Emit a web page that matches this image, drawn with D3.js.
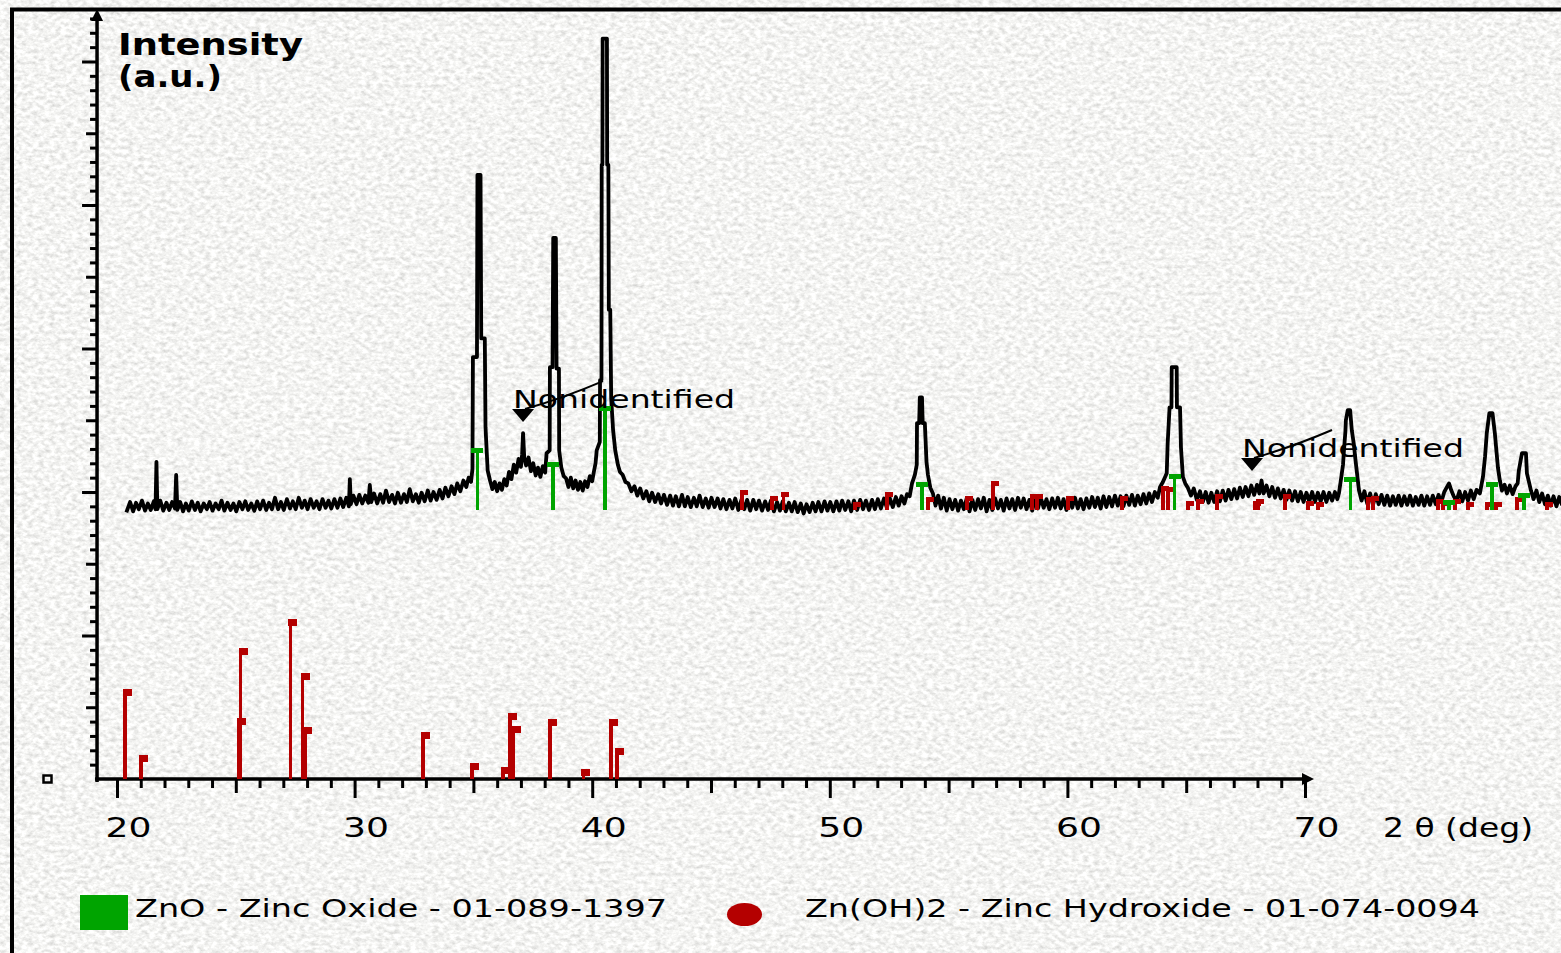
<!DOCTYPE html>
<html>
<head>
<meta charset="utf-8">
<script src="https://cdn.jsdelivr.net/npm/d3@7"></script>
<style>
  html, body { margin: 0; padding: 0; background: #e9e9e6; overflow: hidden; }
  svg { display: block; }
  text { font-family: "DejaVu Sans", Verdana, sans-serif; fill: #000; }
</style>
</head>
<body>
<svg id="chart" width="1561" height="953"></svg>
<script>
// Measured diffraction pattern: [2θ (deg), intensity (a.u.)]
const pattern = [
  [20.42,18.7],[20.55,19.3],[20.68,18.65],[20.8,19.25],[20.92,18.8],[21.05,19.4],[21.18,18.7],[21.3,19.2],[21.42,18.75],[21.55,19.35],
  [21.62,18.8],[21.66,22.1],[21.7,18.8],[21.82,19.4],[21.95,18.7],[22.08,19.25],[22.2,18.75],[22.32,19.3],[22.44,18.85],[22.49,21.2],
  [22.54,18.75],[22.66,19.3],[22.78,18.65],[22.9,19.2],[23.02,18.7],[23.15,19.35],[23.28,18.75],[23.4,19.25],[23.52,18.65],[23.65,19.2],
  [23.78,18.8],[23.9,19.3],[24.02,18.7],[24.15,19.2],[24.28,18.8],[24.4,19.4],[24.52,18.7],[24.65,19.25],[24.78,18.75],[24.9,19.2],
  [25.02,18.65],[25.15,19.3],[25.28,18.8],[25.4,19.35],[25.52,18.75],[25.65,19.2],[25.78,18.7],[25.9,19.35],[26.02,18.8],[26.15,19.4],
  [26.28,18.75],[26.4,19.25],[26.52,18.8],[26.65,19.6],[26.78,18.8],[26.9,19.3],[27.02,18.75],[27.15,19.5],[27.28,18.85],[27.4,19.35],
  [27.52,18.8],[27.65,19.6],[27.78,18.9],[27.9,19.4],[28.02,18.8],[28.15,19.5],[28.28,18.9],[28.4,19.35],[28.52,18.8],[28.65,19.5],
  [28.78,18.9],[28.9,19.4],[29.02,18.85],[29.15,19.5],[29.28,18.9],[29.4,19.55],[29.52,18.95],[29.65,19.6],[29.76,19.0],[29.8,20.9],
  [29.84,19.15],[29.95,19.75],[30.08,19.15],[30.2,19.8],[30.32,19.2],[30.45,19.75],[30.58,19.25],[30.64,20.5],[30.7,19.3],[30.82,19.9],
  [30.95,19.2],[31.08,19.85],[31.2,19.25],[31.32,20.1],[31.45,19.3],[31.58,19.8],[31.7,19.2],[31.82,19.95],[31.95,19.25],[32.08,19.85],
  [32.2,19.3],[32.32,20.2],[32.45,19.35],[32.58,19.85],[32.7,19.25],[32.82,19.95],[32.95,19.35],[33.08,20.1],[33.2,19.4],[33.32,20.0],
  [33.45,19.45],[33.58,20.15],[33.7,19.55],[33.82,20.3],[33.95,19.7],[34.08,20.4],[34.2,19.85],[34.32,20.6],[34.45,20.05],[34.58,20.8],
  [34.7,20.35],[34.8,21.0],[34.9,20.7],[34.96,21.6],[34.98,29.4],[35.15,29.4],[35.17,42.1],[35.3,42.1],[35.33,30.7],[35.48,30.7],
  [35.51,24.5],[35.6,21.5],[35.7,20.8],[35.8,20.2],[35.9,20.7],[36.0,20.05],[36.1,20.6],[36.2,20.15],[36.3,20.9],[36.4,20.45],
  [36.5,21.4],[36.6,20.9],[36.7,21.9],[36.8,21.35],[36.9,22.3],[37.0,21.75],[37.05,22.6],[37.09,24.1],[37.14,22.4],[37.22,21.85],
  [37.32,22.4],[37.42,21.45],[37.52,22.0],[37.62,21.15],[37.72,21.7],[37.82,21.05],[37.92,21.8],[38.02,21.35],[38.08,22.7],[38.21,22.9],
  [38.22,28.7],[38.33,28.7],[38.36,37.7],[38.47,37.7],[38.5,28.6],[38.6,28.6],[38.61,22.9],[38.7,21.7],[38.8,21.1],[38.9,20.95],
  [39.0,20.35],[39.1,21.0],[39.2,20.25],[39.3,20.8],[39.4,20.15],[39.5,20.7],[39.6,20.1],[39.7,20.75],[39.8,20.35],[39.9,21.1],
  [40.0,20.75],[40.08,21.5],[40.14,22.0],[40.19,22.9],[40.32,23.5],[40.33,27.8],[40.39,27.8],[40.4,42.8],[40.43,42.8],[40.44,51.6],
  [40.62,51.6],[40.63,42.8],[40.68,42.8],[40.7,32.7],[40.76,32.7],[40.8,26.5],[40.88,24.3],[40.97,22.9],[41.08,21.9],[41.17,21.4],
  [41.28,21.2],[41.4,20.7],[41.52,20.6],[41.65,20.05],[41.78,20.4],[41.9,19.75],[42.02,20.25],[42.15,19.55],[42.28,20.05],[42.4,19.35],
  [42.52,19.95],[42.65,19.3],[42.78,19.85],[42.9,19.2],[43.02,19.8],[43.15,19.1],[43.28,19.75],[43.4,19.05],[43.52,19.7],[43.65,19.0],
  [43.78,19.8],[43.9,19.0],[44.02,19.65],[44.15,18.95],[44.28,19.6],[44.4,19.0],[44.52,19.75],[44.65,18.95],[44.78,19.55],[44.9,18.9],
  [45.02,19.6],[45.15,18.95],[45.28,19.55],[45.4,18.85],[45.52,19.5],[45.65,18.8],[45.78,19.45],[45.9,18.85],[46.02,19.55],[46.15,18.75],
  [46.28,19.45],[46.4,18.8],[46.52,19.45],[46.65,18.7],[46.78,19.45],[46.9,18.8],[47.02,19.4],[47.15,18.7],[47.28,19.35],[47.4,18.75],
  [47.52,19.4],[47.65,18.65],[47.78,19.3],[47.9,18.7],[48.02,19.35],[48.15,18.65],[48.28,19.25],[48.4,18.65],[48.52,19.3],[48.65,18.6],
  [48.78,19.2],[48.9,18.5],[49.02,19.15],[49.15,18.6],[49.28,19.25],[49.4,18.65],[49.52,19.3],[49.65,18.65],[49.78,19.35],[49.9,18.7],
  [50.02,19.3],[50.15,18.65],[50.28,19.35],[50.4,18.7],[50.52,19.4],[50.65,18.75],[50.78,19.35],[50.9,18.65],[51.02,19.4],[51.15,18.75],
  [51.28,19.45],[51.4,18.8],[51.52,19.4],[51.65,18.75],[51.78,19.45],[51.9,18.8],[52.02,19.5],[52.15,18.85],[52.28,19.55],[52.4,18.9],
  [52.52,19.6],[52.65,18.95],[52.78,19.65],[52.9,19.05],[53.02,19.7],[53.14,19.2],[53.25,19.85],[53.36,19.7],[53.46,20.6],[53.58,21.2],
  [53.66,21.9],[53.67,24.8],[53.76,24.8],[53.79,26.6],[53.88,26.6],[53.91,24.8],[54.0,24.8],[54.07,22.1],[54.13,21.2],[54.23,20.3],
  [54.34,19.9],[54.45,19.05],[54.56,19.75],[54.68,18.85],[54.8,19.6],[54.92,18.7],[55.04,19.5],[55.16,18.8],[55.28,19.45],[55.4,18.7],
  [55.52,19.4],[55.64,18.8],[55.76,19.55],[55.88,18.65],[56.0,19.45],[56.12,18.75],[56.24,19.5],[56.36,18.85],[56.48,19.6],[56.6,18.65],
  [56.72,19.45],[56.84,18.75],[56.96,19.55],[57.08,18.85],[57.2,19.45],[57.32,18.7],[57.44,19.55],[57.56,18.85],[57.68,19.5],[57.8,18.75],
  [57.92,19.6],[58.04,18.9],[58.16,19.55],[58.28,18.8],[58.4,19.45],[58.52,18.7],[58.64,19.55],[58.76,18.85],[58.88,19.6],[59.0,18.9],
  [59.12,19.5],[59.24,18.8],[59.36,19.55],[59.48,18.9],[59.6,19.6],[59.72,18.85],[59.84,19.5],[59.96,18.75],[60.08,19.55],[60.2,18.9],
  [60.32,19.6],[60.44,18.85],[60.56,19.5],[60.68,18.8],[60.8,19.55],[60.92,18.9],[61.04,19.65],[61.16,18.95],[61.28,19.6],[61.4,18.85],
  [61.52,19.7],[61.64,18.95],[61.76,19.65],[61.88,19.0],[62.0,19.75],[62.12,19.05],[62.24,19.7],[62.36,19.0],[62.48,19.75],[62.6,19.1],
  [62.72,19.8],[62.84,19.05],[62.96,19.75],[63.08,19.15],[63.2,19.85],[63.32,19.2],[63.44,19.9],[63.56,19.3],[63.68,20.0],[63.8,19.6],
  [63.9,20.35],[64.02,20.7],[64.18,21.3],[64.22,23.4],[64.3,25.9],[64.38,25.9],[64.39,28.7],[64.6,28.7],[64.61,25.9],[64.74,25.9],
  [64.78,23.1],[64.86,21.05],[64.96,20.6],[65.07,20.3],[65.2,19.75],[65.32,20.25],[65.45,19.45],[65.58,20.05],[65.7,19.3],[65.82,20.0],
  [65.94,19.25],[66.06,19.95],[66.18,19.3],[66.3,20.05],[66.42,19.35],[66.54,20.1],[66.66,19.4],[66.78,20.15],[66.9,19.5],[67.02,20.2],
  [67.14,19.55],[67.26,20.3],[67.38,19.65],[67.5,20.35],[67.62,19.7],[67.74,20.45],[67.86,19.8],[67.98,20.5],[68.08,19.9],[68.17,20.8],
  [68.26,19.9],[68.38,20.45],[68.5,19.7],[68.62,20.35],[68.74,19.6],[68.86,20.25],[68.98,19.55],[69.1,20.15],[69.22,19.45],[69.34,20.1],
  [69.46,19.4],[69.58,20.05],[69.7,19.35],[69.82,20.0],[69.94,19.3],[70.06,19.95],[70.18,19.35],[70.3,20.0],[70.42,19.3],[70.54,19.95],
  [70.66,19.35],[70.78,20.0],[70.9,19.3],[71.02,19.95],[71.14,19.4],[71.26,20.0],[71.36,19.5],[71.43,19.93],[71.51,20.84],[71.6,21.9],
  [71.64,22.9],[71.7,24.2],[71.72,25.0],[71.8,25.7],[71.9,25.7],[71.97,24.3],[72.05,23.4],[72.14,22.0],[72.27,20.14],[72.38,19.4],
  [72.5,20.05],[72.62,19.2],[72.74,19.9],[72.86,19.1],[72.98,19.85],[73.1,19.15],[73.22,19.8],[73.34,19.1],[73.46,19.75],[73.58,19.05],
  [73.7,19.7],[73.82,19.1],[73.94,19.75],[74.06,19.05],[74.18,19.7],[74.3,19.1],[74.42,19.75],[74.54,19.05],[74.66,19.65],[74.78,19.1],
  [74.9,19.75],[75.02,19.05],[75.14,19.7],[75.26,19.1],[75.38,19.75],[75.5,19.15],[75.62,19.8],[75.74,19.3],[75.86,20.0],[75.96,20.3],
  [76.06,20.6],[76.16,20.1],[76.26,19.7],[76.38,19.4],[76.5,20.05],[76.62,19.35],[76.74,20.0],[76.86,19.4],[76.98,20.1],[77.1,19.5],
  [77.22,20.15],[77.36,19.9],[77.49,21.05],[77.58,22.5],[77.65,24.1],[77.76,25.5],[77.89,25.5],[77.99,24.1],[78.06,22.8],[78.12,21.7],
  [78.2,20.8],[78.29,20.1],[78.4,20.5],[78.5,19.9],[78.62,20.45],[78.74,19.85],[78.86,20.4],[78.95,20.6],[79.0,21.5],[79.13,22.7],
  [79.3,22.7],[79.34,21.3],[79.44,20.6],[79.51,20.1],[79.62,19.5],[79.74,20.1],[79.86,19.3],[79.98,19.9],[80.1,19.15],[80.22,19.75],
  [80.34,19.05],[80.46,19.7],[80.58,19.0],[80.7,19.65],[80.8,19.2]
];

// ZnO reference lines: [2θ (deg), relative intensity (%)]
const znoLines = [
  [35.17,59],[38.35,46],[40.54,100],[53.88,26],[64.51,34],[71.91,31],[76.06,9],[77.87,26],[79.22,15]
];

// Zn(OH)2 reference lines shown on the lower panel: [2θ (deg), relative intensity (%)]
const znohLinesLower = [
  [20.34,56],[21.01,14.5],[25.12,38],[25.21,82],[27.3,100],[27.81,66],[27.91,32],[32.88,29],
  [34.94,9.4],[36.25,7],[36.54,41],[36.69,33],[38.22,37],[39.63,5.7],[40.79,37],[41.04,19]
];

// Zn(OH)2 reference lines shown along the measured pattern: [2θ (deg), relative intensity (%)]
const znohLinesUpper = [
  [46.3,18],[47.57,12.6],[48.05,16.5],[51.06,7],[52.41,16.5],[54.13,11.6],[55.77,12.6],[56.87,27],
  [58.51,14.6],[58.72,14.6],[60.03,12.6],[62.3,12.6],[64.02,22],[64.23,21],[65.07,8],[65.5,10],
  [66.3,14.6],[67.9,8],[68.02,10],[69.16,14.6],[70.13,8],[70.55,7],[72.65,11.6],[72.86,12.6],
  [75.6,10],[75.81,8],[76.31,10],[76.86,7],[77.66,7],[78.04,7],[78.92,11.6],[80.18,7]
];

const xTickLabels = [20, 30, 40, 50, 60, 70];
const xMinorTicks = d3.range(20, 71);
const yMinorTicks = d3.range(1, 54);

const legendItems = [
  { label: "ZnO - Zinc Oxide - 01-089-1397", color: "#00a400", shape: "square" },
  { label: "Zn(OH)2 - Zinc Hydroxide - 01-074-0094", color: "#b40000", shape: "dot" }
];

// Unassigned reflections: arrow position [2θ, intensity]
const annotations = [
  { text: "Nonidentified", twoTheta: 37.09, level: 25.85 },
  { text: "Nonidentified", twoTheta: 67.77, level: 22.44 }
];

// Reference-line display settings (a.u. per 100 %)
const stickBaseUpper = 18.75;
const stickScaleUpper = 7.18;
const stickScaleLower = 11.08;
const yAxisAtTwoTheta = 19.16;

const GREEN = "#00a400";
const RED = "#b40000";

const svg = d3.select("#chart");

// Paper-like grain background
const defs = svg.append("defs");
const grain = defs.append("filter").attr("id", "grain")
  .attr("x", 0).attr("y", 0).attr("width", "100%").attr("height", "100%");
grain.append("feTurbulence").attr("type", "fractalNoise")
  .attr("baseFrequency", "0.18 0.26").attr("numOctaves", 3).attr("seed", 7).attr("result", "n");
grain.append("feColorMatrix").attr("in", "n").attr("type", "matrix")
  .attr("values", "0.62 0 0 0 0.595  0.62 0 0 0 0.595  0.62 0 0 0 0.58  0 0 0 0 1");
svg.append("rect").attr("width", 1561).attr("height", 953).attr("filter", "url(#grain)");

const x = d3.scaleLinear().domain([20, 70]).range([117, 1305]);
const y = d3.scaleLinear().domain([0, 50]).range([779, 61.5]);

// Outer frame
svg.append("path").attr("d", "M12,953 V9.5 H1561")
  .attr("fill", "none").attr("stroke", "#000").attr("stroke-width", 4);

// Y axis
const yAxisX = x(yAxisAtTwoTheta);
const gy = svg.append("g").attr("transform", `translate(${yAxisX},0)`)
  .call(d3.axisLeft(y).tickValues(yMinorTicks).tickSize(7).tickFormat(() => ""));
gy.select(".domain").remove();
gy.selectAll(".tick line")
  .attr("stroke", "#000").attr("stroke-width", 3)
  .attr("x2", d => d % 10 === 0 ? -15 : (d % 5 === 0 ? -11 : -7));
svg.append("line").attr("x1", yAxisX).attr("x2", yAxisX)
  .attr("y1", y(0) + 3).attr("y2", 16)
  .attr("stroke", "#000").attr("stroke-width", 3.5);
svg.append("path")
  .attr("d", `M${yAxisX},9 L${yAxisX - 6},21 L${yAxisX + 6},21 Z`).attr("fill", "#000");

// X axis
const gx = svg.append("g").attr("transform", `translate(0,${y(0)})`)
  .call(d3.axisBottom(x).tickValues(xMinorTicks).tickSize(7)
    .tickFormat(d => xTickLabels.includes(d) ? String(d) : ""));
gx.select(".domain").remove();
gx.selectAll(".tick line")
  .attr("stroke", "#000").attr("stroke-width", 3)
  .attr("y2", d => d % 10 === 0 ? 19 : (d % 5 === 0 ? 14 : 9));
gx.selectAll(".tick text")
  .attr("y", 58).attr("dy", 0).attr("dx", 11)
  .style("font-family", '"DejaVu Sans", Verdana, sans-serif')
  .style("font-size", "26.5px").attr("fill", "#000")
  .each(function(d) { if (xTickLabels.includes(d)) d3.select(this).attr("textLength", 46).attr("lengthAdjust", "spacingAndGlyphs"); });
svg.append("line").attr("x1", yAxisX - 2).attr("x2", x(70) + 2)
  .attr("y1", y(0)).attr("y2", y(0))
  .attr("stroke", "#000").attr("stroke-width", 3.5);
svg.append("path")
  .attr("d", `M${x(70) + 9},${y(0)} L${x(70) - 3},${y(0) - 6} L${x(70) - 3},${y(0) + 6} Z`)
  .attr("fill", "#000");

// Origin marker
svg.append("rect").attr("x", 43.5).attr("y", 775.5).attr("width", 8).attr("height", 7)
  .attr("fill", "none").attr("stroke", "#000").attr("stroke-width", 2.5);

// Axis titles
svg.append("text").attr("x", 118).attr("y", 55)
  .style("font-size", "30px").style("font-weight", "bold")
  .attr("textLength", 185).attr("lengthAdjust", "spacingAndGlyphs").text("Intensity");
svg.append("text").attr("x", 118).attr("y", 87)
  .style("font-size", "30px").style("font-weight", "bold")
  .attr("textLength", 104).attr("lengthAdjust", "spacingAndGlyphs").text("(a.u.)");
svg.append("text").attr("x", 1383).attr("y", 837)
  .style("font-size", "26.5px")
  .attr("textLength", 150).attr("lengthAdjust", "spacingAndGlyphs").text("2 θ (deg)");

// Measured pattern
const line = d3.line().x(d => x(d[0])).y(d => y(d[1]));
svg.append("path").datum(pattern)
  .attr("d", line).attr("fill", "none")
  .attr("stroke", "#000").attr("stroke-width", 3.8)
  .attr("stroke-linejoin", "round").attr("stroke-linecap", "square");

// Stick drawing helper
function drawSticks(data, base, scale, color, capW, capH, capDx) {
  const g = svg.append("g").attr("shape-rendering", "crispEdges");
  g.selectAll("line").data(data).join("line")
    .attr("x1", d => x(d[0])).attr("x2", d => x(d[0]))
    .attr("y1", y(base)).attr("y2", d => y(base + d[1] * scale / 100))
    .attr("stroke", color).attr("stroke-width", 3.4);
  g.selectAll("rect").data(data).join("rect")
    .attr("x", d => x(d[0]) + capDx)
    .attr("y", d => y(base + d[1] * scale / 100) - 1)
    .attr("width", capW).attr("height", capH)
    .attr("fill", color);
}

drawSticks(znohLinesLower, 0, stickScaleLower, RED, 9, 7, -2);
drawSticks(znohLinesUpper, stickBaseUpper, stickScaleUpper, RED, 8, 5, -2);
drawSticks(znoLines, stickBaseUpper, stickScaleUpper, GREEN, 12, 5, -6);

// Annotations for unassigned reflections
annotations.forEach(a => {
  const cx = x(a.twoTheta);
  const ty = y(a.level);
  svg.append("text").attr("x", cx - 10).attr("y", ty)
    .style("font-size", "25px")
    .attr("textLength", 222).attr("lengthAdjust", "spacingAndGlyphs").text(a.text);
  svg.append("path")
    .attr("d", `M${cx - 11},${ty + 1} L${cx + 11},${ty + 1} L${cx},${ty + 14} Z`)
    .attr("fill", "#000");
  svg.append("path")
    .attr("d", `M${cx + 2},${ty + 1} Q${cx + 40},${ty - 10} ${cx + 80},${ty - 27}`)
    .attr("fill", "none").attr("stroke", "#000").attr("stroke-width", 2);
});

// Legend
const legendPos = [{ mx: 80, tx: 135 }, { mx: 727, tx: 805 }];
legendItems.forEach((item, i) => {
  const p = legendPos[i];
  if (item.shape === "square") {
    svg.append("rect").attr("x", p.mx).attr("y", 895).attr("width", 48).attr("height", 35).attr("fill", item.color);
  } else {
    svg.append("ellipse").attr("cx", p.mx + 17.5).attr("cy", 914.5).attr("rx", 17.5).attr("ry", 11.5).attr("fill", item.color);
  }
  svg.append("text").attr("x", p.tx).attr("y", 917)
    .style("font-size", "24px")
    .attr("textLength", i === 0 ? 532 : 675).attr("lengthAdjust", "spacingAndGlyphs")
    .text(item.label);
});
</script>
</body>
</html>
